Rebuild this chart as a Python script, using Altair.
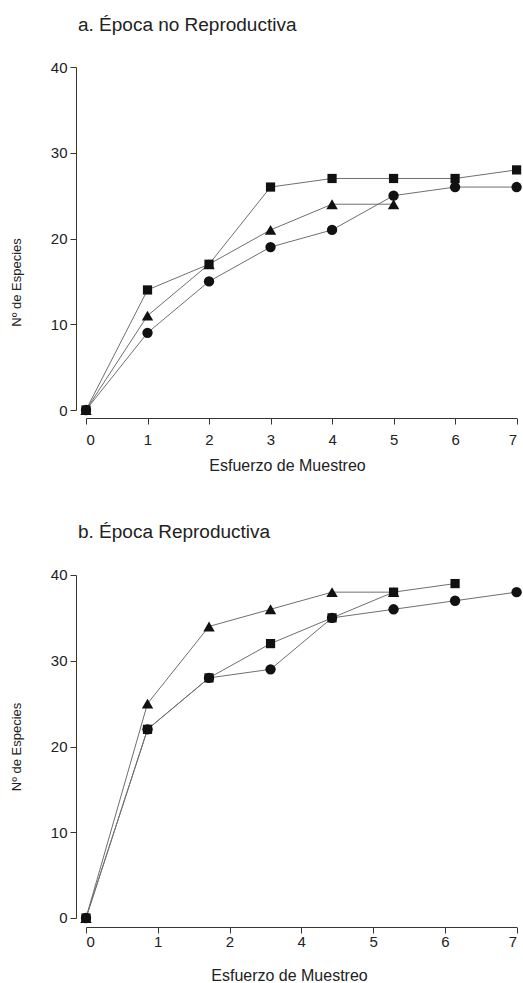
import altair as alt
import pandas as pd

# ---- data ----
effort = [0, 1, 2, 3, 4, 5, 6, 7]

# a. Época no Reproductiva
a_square = [0, 14, 17, 26, 27, 27, 27, 28]
a_triangle = [0, 11, 17, 21, 24, 24]
a_circle = [0, 9, 15, 19, 21, 25, 26, 26]

# b. Época Reproductiva
b_triangle = [0, 25, 34, 36, 38, 38]
b_square = [0, 22, 28, 32, 35, 38, 39]
b_circle = [0, 22, 28, 29, 35, 36, 37, 38]

a_ticks = [0, 1, 2, 3, 4, 5, 6, 7]
b_tick_labels = ["0", "1", "2", "4", "5", "6", "7"]
y_ticks = [0, 10, 20, 30, 40]

series_order = ["tri", "cir", "sq"]
shape_range = ["triangle-up", "circle", "square"]
size_range = [130, 85, 100]


def build(tri, cir, sq):
    rows = []
    for name, vals in (("tri", tri), ("cir", cir), ("sq", sq)):
        for i, v in enumerate(vals):
            rows.append({"x": effort[i], "y": v, "serie": name})
    return pd.DataFrame(rows)


df_a = build(a_triangle, a_circle, a_square)
df_b = build(b_triangle, b_circle, b_square)

FONT = "Liberation Sans"
TXT = "#222222"
AX = "#333333"

b_tick_values = [i * 7 / 6 for i in range(len(b_tick_labels))]
b_label_expr = "[" + ",".join("'" + s + "'" for s in b_tick_labels) + "][round(datum.value*6/7)]"


def panel(df, title, xaxis, yaxis, toff):
    base = alt.Chart(df)
    xenc = alt.X("x:Q", scale=alt.Scale(domain=[0, 7], nice=False, zero=False), axis=xaxis)
    yenc = alt.Y("y:Q", scale=alt.Scale(domain=[0, 40], nice=False), axis=yaxis)
    lines = base.mark_line(color="#6e6e6e", strokeWidth=1).encode(
        x=xenc, y=yenc, detail="serie:N", order="x:Q"
    )
    pts = base.mark_point(filled=True, color="#111111", opacity=1).encode(
        x=xenc,
        y=yenc,
        shape=alt.Shape("serie:N", scale=alt.Scale(domain=series_order, range=shape_range), legend=None),
        size=alt.Size("serie:N", scale=alt.Scale(domain=series_order, range=size_range), legend=None),
    )
    return alt.layer(lines, pts).properties(
        width=430.6,
        height=343,
        title=alt.TitleParams(
            title, anchor="start", frame="group", fontSize=19, fontWeight="normal", font=FONT,
            color=TXT, dx=-8, offset=toff,
        ),
    )


def yaxis(**kw):
    return alt.Axis(
        values=y_ticks, title="Nº de Especies", offset=10, tickSize=6, grid=False,
        labelFontSize=15, titleFontSize=13, titleFontWeight="normal", labelFont=FONT, titleFont=FONT,
        labelColor=TXT, titleColor=TXT, domainColor=AX, tickColor=AX, labelPadding=3,
        titlePadding=27, **kw
    )


xa = alt.Axis(
    values=a_ticks, title="Esfuerzo de Muestreo", offset=8, tickSize=6, grid=False,
    labelFontSize=15, titleFontSize=16, titleFontWeight="normal", labelFont=FONT, titleFont=FONT,
    labelColor=TXT, titleColor=TXT, domainColor=AX, tickColor=AX, labelPadding=8, titlePadding=10,
    titleX=201,
)
xb = alt.Axis(
    values=b_tick_values, labelExpr=b_label_expr, title="Esfuerzo de Muestreo", offset=9, tickSize=6,
    grid=False, labelFontSize=15, titleFontSize=16, titleFontWeight="normal", labelFont=FONT,
    titleFont=FONT, labelColor=TXT, titleColor=TXT, domainColor=AX, tickColor=AX, labelPadding=2,
    titlePadding=18, titleX=203,
)

pa = panel(df_a, "a. Época no Reproductiva", xa, yaxis(titleY=215), 25)
pb = panel(df_b, "b. Época Reproductiva", xb, yaxis(), 26)

chart = alt.vconcat(pa, pb, spacing=50).properties(
    padding={"left": 10, "top": 16, "right": 0, "bottom": 0}
).configure_view(stroke=None)

chart.save("out.html", embed_options={"renderer": "svg", "actions": False})
